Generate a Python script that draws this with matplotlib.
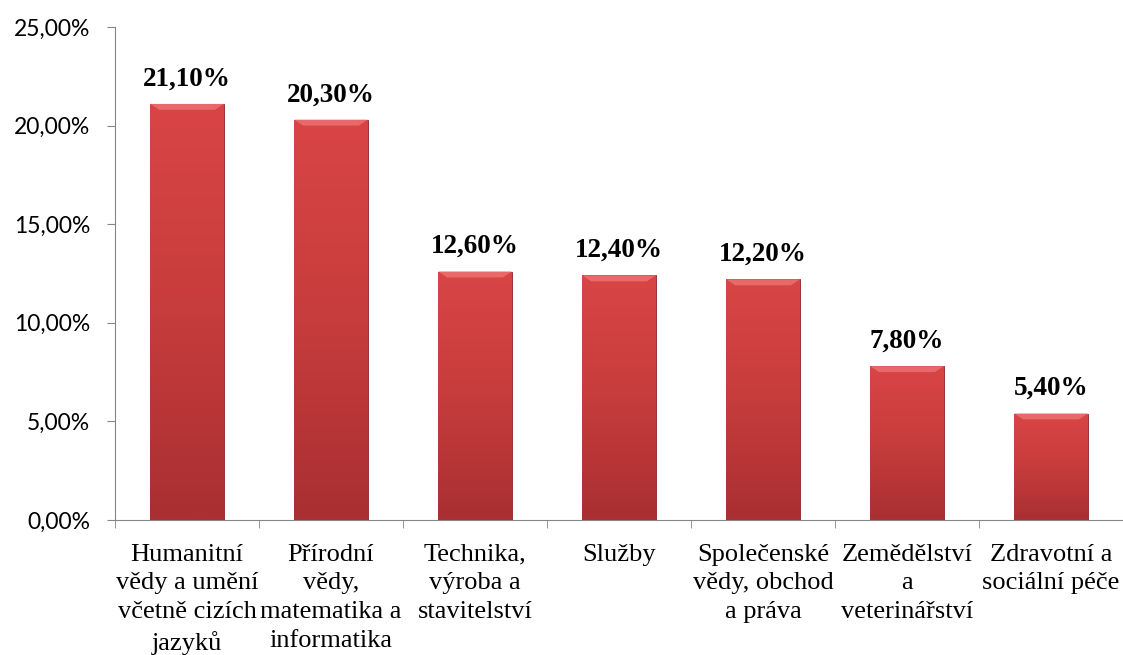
import numpy as np
import matplotlib.pyplot as plt
from matplotlib.colors import LinearSegmentedColormap
from matplotlib.ticker import FuncFormatter

categories = ['Humanitní\nvědy a umění\nvčetně cizích\njazyků',
              'Přírodní\nvědy,\nmatematika a\ninformatika',
              'Technika,\nvýroba a\nstavitelství',
              'Služby',
              'Společenské\nvědy, obchod\na práva',
              'Zemědělství\na\nveterinářství',
              'Zdravotní a\nsociální péče']
values = [21.1, 20.3, 12.6, 12.4, 12.2, 7.8, 5.4]

fig = plt.figure(figsize=(11.23, 6.55), dpi=100)
ax = fig.add_axes([115 / 1123, 135 / 655, 1008 / 1123, 493 / 655])

x = np.arange(len(categories))
bars = ax.bar(x, values, width=0.51, color='#c93a3c', edgecolor='#8e2224', linewidth=0.6, zorder=2)

# gradient fill inside each bar (darker at the bottom, like the Excel bevel style)
cmap = LinearSegmentedColormap.from_list('bar', ['#a92f31', '#c73c3d', '#d94545'])
grad = np.linspace(0, 1, 256).reshape(-1, 1)
for b in bars:
    x0, w, h = b.get_x(), b.get_width(), b.get_height()
    im = ax.imshow(grad, cmap=cmap, aspect='auto', origin='lower',
                   extent=[x0, x0 + w, 0, h], zorder=2.5)
    im.set_clip_path(b)
    # light top bevel
    ax.fill([x0, x0 + w, x0 + w * 0.88, x0 + w * 0.12], [h, h, h - 0.3, h - 0.3],
            color='#e8696a', zorder=2.6, lw=0)

for xi, v in zip(x, values):
    ax.annotate(f'{v:.2f}%'.replace('.', ','), (xi, v), xytext=(0, 9),
                textcoords='offset points', ha='center', va='bottom',
                fontsize=19.5, fontweight='bold', family='Liberation Serif')

ax.set_xlim(-0.5, len(categories) - 0.5)
ax.set_ylim(0, 25)
ax.set_yticks([0, 5, 10, 15, 20, 25])
ax.yaxis.set_major_formatter(FuncFormatter(lambda v, p: f'{v:.2f}%'.replace('.', ',')))
ax.set_xticks(x)
ax.set_xticklabels(categories, family='Liberation Serif', fontsize=19, linespacing=1.4)
ax.set_xticks(np.arange(-0.5, len(categories)), minor=True)
ax.tick_params(axis='x', which='major', length=0, pad=17)
ax.tick_params(axis='x', which='minor', length=6, color='#868686', direction='out')
ax.tick_params(axis='y', length=6, color='#868686', labelsize=16.5, pad=12)
for lbl in ax.get_yticklabels():
    lbl.set_family('Lato')

for s in ['top', 'right']:
    ax.spines[s].set_visible(False)
ax.spines['left'].set_color('#868686')
ax.spines['bottom'].set_color('#868686')

fig.savefig('out.png', dpi=100)
